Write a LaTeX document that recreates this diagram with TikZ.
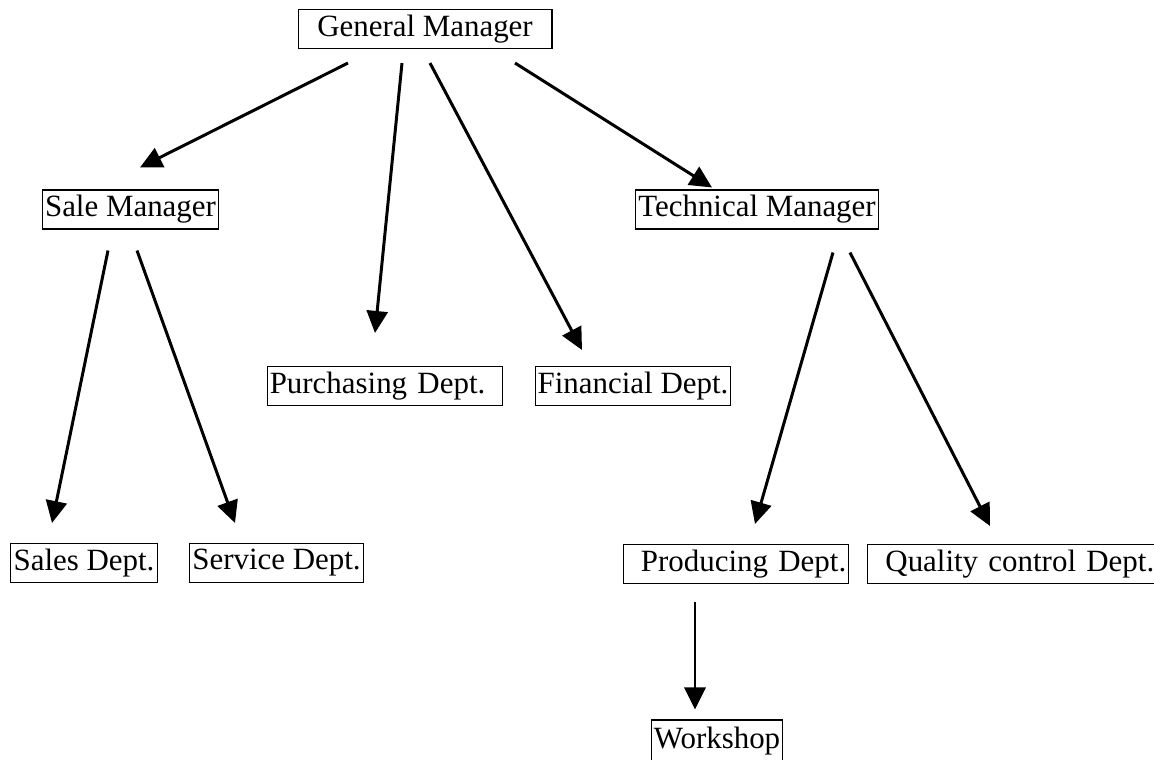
\documentclass[tikz,border=0pt]{standalone}
\usepackage{fontspec}
\setmainfont{Liberation Serif}
\usetikzlibrary{calc,arrows.meta}
\tikzset{
  unit/.style={draw, line width=0.6pt, inner xsep=1.5pt, inner ysep=0pt,
    minimum height=0.78cm, font=\fontsize{17.6}{20}\selectfont},
  arr/.style={line width=1.7pt, -{Triangle[length=0.44cm,width=0.42cm]}},
}
\begin{document}
\begin{tikzpicture}[x=0.02cm,y=-0.02cm]
  \useasboundingbox (0,0) rectangle (1154,760);
  % boxes
  \node[unit, minimum width=5.08cm] (gm) at (425,29) {General Manager};
  \node[unit] (sm) at (130.5,209.5) {Sale Manager};
  \node[unit] (tm) at (757,209.5) {Technical Manager};
  \node[unit, text width=4.61cm, align=left] (pd) at (385,386) {Purchasing Dept.};
  \node[unit] (fd) at (633,386) {Financial Dept.};
  \node[unit] (sd) at (84,563) {Sales Dept.};
  \node[unit] (sv) at (276.5,563) {Service Dept.};
  \node[unit, text width=4.41cm, align=right] (prod) at (736,564) {Producing Dept.};
  \node[unit, text width=5.69cm, align=right] (qc) at (1012,564) {Quality control Dept.};
  \node[unit, minimum height=0.84cm] (ws) at (717,741) {Workshop};
  % connectors
  \draw[arr] ($(gm.south)+(-77,14)$) -- ($(sm.north)+(9.5,-22)$);
  \draw[arr] ($(gm.south)+(-23,14)$) -- ($(pd.north)+(-10,-33)$);
  \draw[arr] ($(gm.south)+(5,14)$) -- ($(fd.north)+(-51,-16)$);
  \draw[arr] ($(gm.south)+(90,14)$) -- ($(tm.north)+(-45,-2)$);
  \draw[arr] ($(sm.south)+(-22.5,21)$) -- ($(sd.north)+(-32,-20)$);
  \draw[arr] ($(sm.south)+(6.5,21)$) -- ($(sv.north)+(-41.5,-20)$);
  \draw[arr] ($(tm.south)+(76,23)$) -- ($(prod.north)+(19,-20)$);
  \draw[arr] ($(tm.south)+(93,23)$) -- ($(qc.north)+(-22,-18)$);
  \draw[arr] ($(prod.south)+(-41,18)$) -- ($(ws.north)+(-22,-10)$);
\end{tikzpicture}
\end{document}
